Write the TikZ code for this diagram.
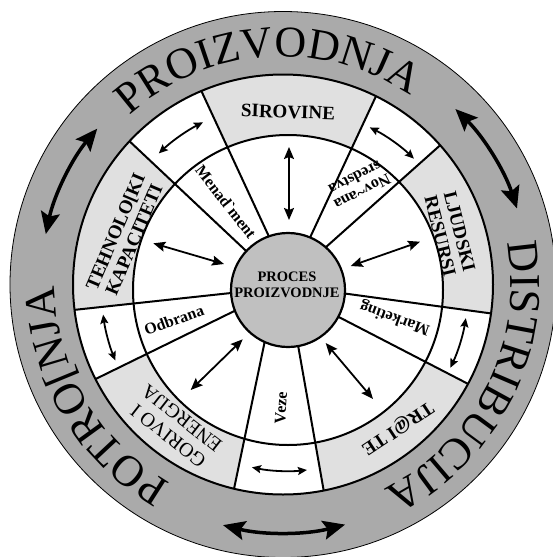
\documentclass[tikz,border=0pt]{standalone}
\usepackage{fontspec}
\newfontfamily\rmx{Liberation Serif}
\usetikzlibrary{calc,arrows.meta,decorations.text}
\definecolor{bandgrey}{RGB}{170,170,170}
\definecolor{secgrey}{RGB}{224,224,224}
\definecolor{ctrgrey}{RGB}{192,192,192}
\newcommand\bandfont{\rmx\fontsize{44}{44}\selectfont}
\tikzset{
  secb/.style={font=\rmx\bfseries\fontsize{19}{20}\selectfont, align=center, inner sep=0pt},
  secr/.style={font=\rmx\fontsize{20}{22}\selectfont, align=center, inner sep=0pt},
  inb/.style={font=\rmx\bfseries\fontsize{16}{16}\selectfont, align=center, inner sep=0pt},
  ctr/.style={font=\rmx\bfseries\fontsize{14.5}{16}\selectfont, align=center, inner sep=0pt},
  sarr/.style={line width=1.8pt, {Stealth[length=12pt,width=10pt,inset=2pt]}-{Stealth[length=12pt,width=10pt,inset=2pt]}},
  carr/.style={line width=1.8pt, {Stealth[length=9pt,width=8pt,inset=1.5pt]}-{Stealth[length=9pt,width=8pt,inset=1.5pt]}},
  barr/.style={line width=3.5pt, {Stealth[length=22pt,width=19pt,inset=4pt]}-{Stealth[length=22pt,width=19pt,inset=4pt]}},
  spoke/.style={line width=2pt},
  bandtext/.style={decorate, decoration={text along path, text align=center, text={|\bandfont|#1}}}
}
\begin{document}
\begin{tikzpicture}[x=1pt,y=1pt]
\useasboundingbox (0,0) rectangle (552,-557);
\coordinate (O) at (283,-284.5);
\coordinate (C) at (288,-290);
% sector boundary points (outer / inner)
\coordinate (L1o) at (201.7,-91.7);  \coordinate (L1i) at (266.7,-231.7);
\coordinate (L2o) at (375,-98.3);    \coordinate (L2i) at (311.7,-234);
\coordinate (L3o) at (439.3,-146);   \coordinate (L3i) at (328.3,-245);
\coordinate (L4o) at (490,-313.3);   \coordinate (L4i) at (344,-293.4);
\coordinate (L5o) at (468.3,-384);   \coordinate (L5i) at (338,-316.6);
\coordinate (L6o) at (324,-492.3);   \coordinate (L6i) at (298,-345);
\coordinate (L7o) at (233.3,-492.3); \coordinate (L7i) at (264,-345);
\coordinate (L8o) at (95,-379.3);    \coordinate (L8i) at (235,-310.7);
\coordinate (L9o) at (73.3,-310);    \coordinate (L9i) at (228.3,-293.3);
\coordinate (L10o) at (130,-141.7);  \coordinate (L10i) at (243.3,-248.3);

% outer band
\fill[bandgrey] (O) circle[radius=273pt];
\draw[line width=0.8pt] (O) circle[radius=273pt];
\fill[white] (O) circle[radius=210pt];

% grey sectors
\begin{scope}
  \clip (O) circle[radius=210pt];
  \foreach \a/\b in {1/2,3/4,5/6,7/8,9/10}{
    \fill[secgrey] (L\a i) -- ($(L\a i)!1.4!(L\a o)$) -- ($(L\b i)!1.4!(L\b o)$) -- (L\b i) -- cycle;
  }
\end{scope}
\fill[white] (C) circle[radius=155pt];

% spokes
\begin{scope}
  \clip (O) circle[radius=210pt];
  \foreach \a in {1,...,10}{
    \draw[spoke] ($(L\a o)!1.15!(L\a i)$) -- ($(L\a i)!1.05!(L\a o)$);
  }
\end{scope}
\draw[line width=2pt] (O) circle[radius=210pt];
\draw[line width=2pt] (C) circle[radius=155pt];

% centre
\node[circle, fill=ctrgrey, draw, line width=2.2pt, minimum size=114pt, inner sep=0pt] (core) at (C) {};
\node[ctr] (coretext) at (287,-285) {PROCES\\PROIZVODNJE};

% sector labels
\node[secb, rotate=-2] (sir) at (288,-112) {SIROVINE};
\node[secb, rotate=-76] (lju) at (450,-234) {LJUDSKI\\RESURSI};
\node[secb, rotate=213.5] (trz) at (397,-428) {TR@I TE};
\node[secr, rotate=142] (gor) at (175,-427) {GORIVO I\\ENERGIJA};
\node[secb, rotate=67] (teh) at (124.5,-235.5) {TEHNOLO[KI\\KAPACITETI};

% inner labels
\node[inb, rotate=-52] (men) at (226,-202) {Menad\symbol{96}ment};
\node[inb, rotate=207] (nov) at (358.7,-185) {Nov\symbol{126}ana\\sredstva};
\node[inb, rotate=160] (mar) at (395,-318) {Marketing};
\node[inb, rotate=86] (vez) at (281,-408) {Veze};
\node[inb, rotate=20] (odb) at (174,-320) {Odbrana};

% straight radial arrows
\coordinate (a1s) at (289,-147);   \coordinate (a1e) at (289,-220);
\coordinate (a2s) at (153.3,-243.3); \coordinate (a2e) at (224,-264);
\coordinate (a3s) at (420,-241.7); \coordinate (a3e) at (350.7,-266);
\coordinate (a4s) at (325.7,-343); \coordinate (a4e) at (373,-399);
\coordinate (a5s) at (242.7,-339.3); \coordinate (a5e) at (190.7,-390);
\foreach \i in {1,...,5}{\draw[sarr] (a\i s) -- (a\i e);}

% curved arrows in white sectors
\draw[carr] ($(C)+(133.4:188pt)$) arc[start angle=133.4, end angle=116.9, radius=188pt];
\draw[carr] ($(C)+(63.3:182pt)$) arc[start angle=63.3, end angle=46.2, radius=182pt];
\draw[carr] ($(C)+(-9:180pt)$) arc[start angle=-9, end angle=-25.6, radius=180pt];
\draw[carr] ($(C)+(-101.5:181pt)$) arc[start angle=-101.5, end angle=-84, radius=181pt];
\draw[carr] ($(C)+(187.6:186.5pt)$) arc[start angle=187.6, end angle=202.2, radius=186.5pt];

% big arrows in band
\draw[barr] ($(O)+(45.5:246pt)$) arc[start angle=45.5, end angle=18, radius=246pt];
\draw[barr] ($(O)+(140:242.5pt)$) arc[start angle=140, end angle=168, radius=242.5pt];
\draw[barr] ($(O)+(256:248pt)$) arc[start angle=256, end angle=284.5, radius=248pt];

% band texts
\path[bandtext=PROIZVODNJA] ($(O)+(144:228pt)$) arc[start angle=144, end angle=44, radius=228pt];
\path[bandtext=DISTRIBUCIJA] ($(O)+(23.4:228pt)$) arc[start angle=23.4, end angle=-76.6, radius=228pt];
\path[bandtext=POTRO{[}NJA] ($(O)+(260.4:228pt)$) arc[start angle=260.4, end angle=160.4, radius=228pt];
\end{tikzpicture}
\end{document}
